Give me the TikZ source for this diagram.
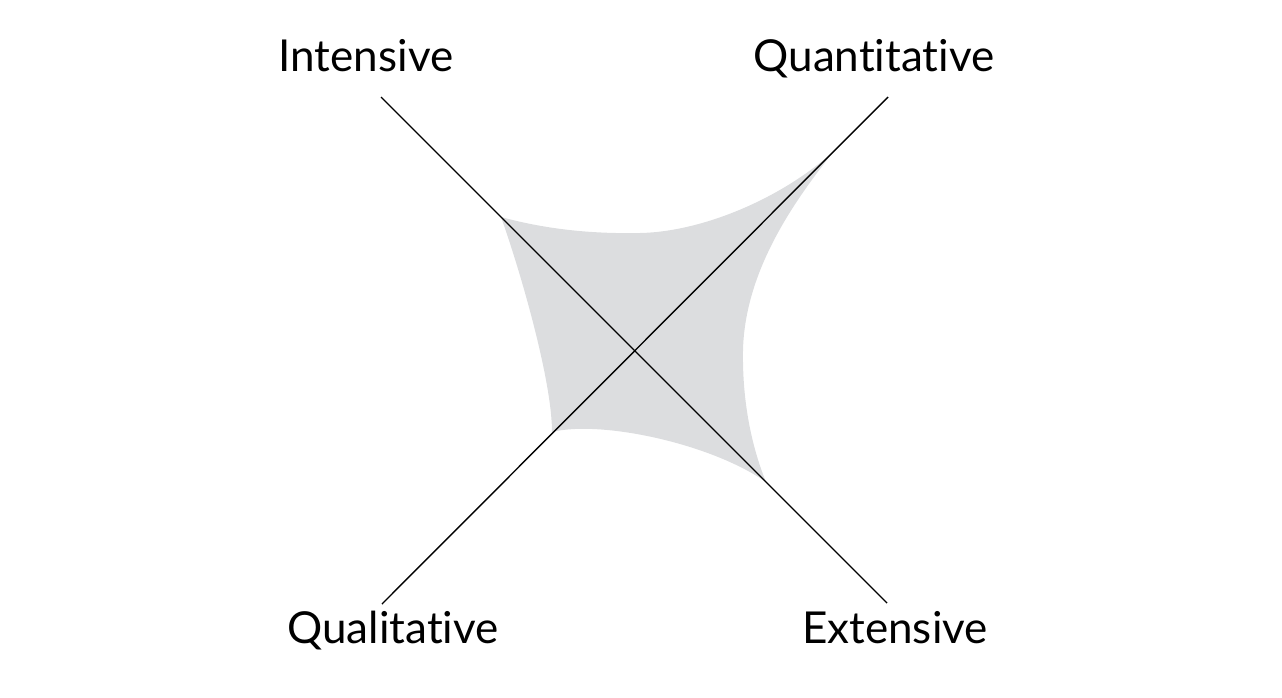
\documentclass[tikz,border=0pt]{standalone}
\usepackage{fontspec}
\setmainfont{Lato}[Ligatures={NoCommon,NoRare}]
\definecolor{regiongray}{RGB}{220,221,223}
\begin{document}
\begin{tikzpicture}[x=1pt,y=-1pt,
  axis/.style={draw=black,line width=1.4pt},
  lbl/.style={anchor=base,inner sep=0pt,font=\fontsize{44}{50}\selectfont}]
\useasboundingbox (0,0) rectangle (1282,698);
% shaded region
\coordinate (A) at (501,217);
\coordinate (B) at (834,151);
\coordinate (D) at (766,482);
\coordinate (E) at (552,432);
\fill[regiongray] (A) .. controls (545,229) and (590,234) .. (640,233)
  .. controls (700,232) and (780,200) .. (B)
  .. controls (795,200) and (745,270) .. (743,350)
  .. controls (742,410) and (755,455) .. (D)
  .. controls (710,443) and (600,420) .. (E)
  .. controls (552,380) and (520,270) .. (A) -- cycle;
% axes
\coordinate (p1) at (381,97);
\coordinate (p2) at (887,603);
\coordinate (q1) at (382,604);
\coordinate (q2) at (888,97);
\draw[axis] (p1) -- (p2);
\draw[axis] (q1) -- (q2);
% labels
\node[lbl] (int) at (366,72) {Intensive};
\node[lbl] (qnt) at (874,72) {Quantitative};
\node[lbl] (qlt) at (393,643) {Qualitative};
\node[lbl] (ext) at (895,643) {Extensive};
\end{tikzpicture}
\end{document}
